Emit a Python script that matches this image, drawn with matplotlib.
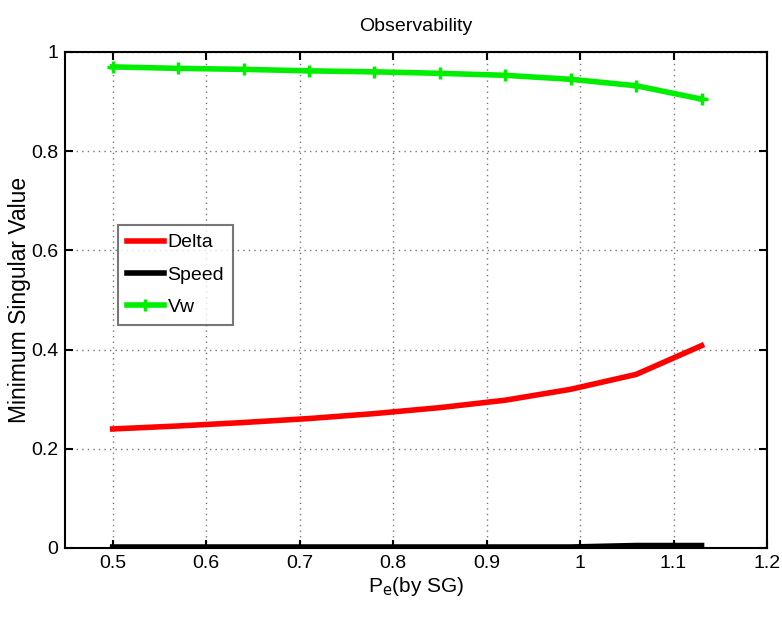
import numpy as np
import matplotlib
matplotlib.use("Agg")
import matplotlib.pyplot as plt

# operating points (Pe by SG)
pe = [0.5, 0.57, 0.64, 0.71, 0.78, 0.85, 0.92, 0.99, 1.06, 1.13]
delta = [0.240, 0.246, 0.253, 0.261, 0.271, 0.283, 0.298, 0.320, 0.350, 0.408]
speed = [0.002, 0.002, 0.002, 0.002, 0.002, 0.002, 0.002, 0.002, 0.005, 0.005]
vw = [0.970, 0.967, 0.965, 0.962, 0.960, 0.957, 0.953, 0.945, 0.932, 0.905]

xticks = [0.5, 0.6, 0.7, 0.8, 0.9, 1.0, 1.1, 1.2]
xticklabels = ["0.5", "0.6", "0.7", "0.8", "0.9", "1", "1.1", "1.2"]
yticks = [0, 0.2, 0.4, 0.6, 0.8, 1.0]
yticklabels = ["0", "0.2", "0.4", "0.6", "0.8", "1"]

plt.rcParams["font.family"] = ["Liberation Sans", "DejaVu Sans"]

fig = plt.figure(figsize=(7.82, 6.19), dpi=100)
ax = fig.add_axes([65 / 782, 1 - 548 / 619, 702 / 782, 496 / 619])

ax.plot(pe, delta, color="red", lw=4, label="Delta", zorder=3)
ax.plot(pe, speed, color="black", lw=4, label="Speed", zorder=3)
ax.plot(pe, vw, color="#00ee00", lw=4, marker="+", ms=8, mew=2.5,
        label="Vw", zorder=3)

ax.set_xlim(0.449, 1.2)
ax.set_ylim(0, 1)
ax.set_xticks(xticks)
ax.set_xticklabels(xticklabels, fontsize=14)
ax.set_yticks(yticks)
ax.set_yticklabels(yticklabels, fontsize=14)
ax.tick_params(direction="in", length=6, width=1.5, top=True, right=True, pad=5)
ax.grid(True, linestyle=(0, (1, 3)), color="#777777", lw=1)
for s in ax.spines.values():
    s.set_linewidth(1.5)

ax.set_title("Observability", fontsize=14, pad=15)
ax.set_ylabel("Minimum Singular Value", fontsize=16.5, labelpad=0)
ax.set_xlabel(r"P$_{\mathrm{e}}$(by SG)", fontsize=15, labelpad=2)

leg = ax.legend(loc="upper left", bbox_to_anchor=(0.0755, 0.651), fontsize=14,
                frameon=True, fancybox=False, edgecolor="#555555",
                borderaxespad=0, handlelength=1.9, handletextpad=0.2,
                borderpad=0.45, labelspacing=0.75)
leg.get_frame().set_linewidth(1.5)

fig.savefig("out.png", dpi=100)
